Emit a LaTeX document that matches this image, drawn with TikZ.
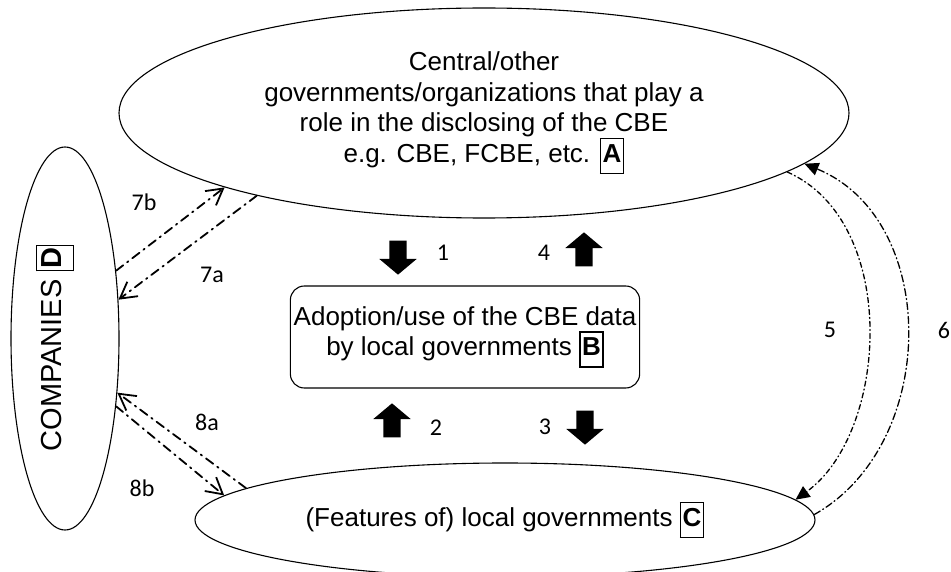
\documentclass[tikz,border=0pt]{standalone}
\usepackage{fontspec}
\setmainfont{Liberation Sans}
\newfontfamily\numfont{Carlito}
\usetikzlibrary{arrows.meta,shapes.geometric,shapes.arrows}

\newcommand{\boxlet}[1]{{\setlength{\fboxsep}{1.5pt}\setlength{\fboxrule}{1.4pt}\fbox{\textbf{#1}\strut}}}

\begin{document}
\begin{tikzpicture}[x=1pt,y=-1pt,line cap=round,
  font=\fontsize{26}{30.5}\selectfont,
  oval/.style={draw,ellipse,inner sep=0pt,line width=1.1pt},
  blockarr/.style={single arrow,fill=black,inner xsep=0pt,inner ysep=8.5pt,
    single arrow head extend=10pt,single arrow tip angle=100,minimum height=34pt},
  num/.style={font=\numfont\fontsize{24}{28}\selectfont},
  flow/.style={line width=1.8pt,dash pattern=on 9pt off 5pt on 1.5pt off 5pt,
    -{Straight Barb[length=16pt,width=18pt,line width=1.8pt]}},
  loop/.style={line width=1.3pt,-{Triangle[length=14pt,width=13pt]}}]
\useasboundingbox (0,0) rectangle (951,572);

% the four blocks
\node[oval,minimum width=730pt,minimum height=210pt,align=center] (A) at (484,113)
  {Central/other\\governments/organizations that play a\\role in the disclosing of the CBE\\e.g. CBE, FCBE, etc. \boxlet{A}};
\node[draw,line width=1.1pt,rounded corners=14pt,minimum width=346pt,minimum height=102pt,align=center] (B) at (465,337)
  {Adoption/use of the CBE data\\by local governments \boxlet{B}};
\node[oval,minimum width=620pt,minimum height=114pt] (C) at (505,520) {(Features of) local governments \boxlet{C}};
\node[oval,minimum width=108pt,minimum height=383pt] (D) at (65,338.5) {};
\node[rotate=90,font=\fontsize{29}{33}\selectfont] (Dtext) at (55,348) {COMPANIES \boxlet{D}};

% links A-B-C
\node[blockarr,rotate=-90] (a1) at (398,254) {};
\node[blockarr,rotate=90] (a4) at (584,253) {};
\node[blockarr,rotate=90] (a2) at (392,424) {};
\node[blockarr,rotate=-90] (a3) at (585,424) {};
\node[num] (n1) at (443,253) {1};
\node[num] (n4) at (544,253) {4};
\node[num] (n2) at (436,428) {2};
\node[num] (n3) at (545,427) {3};

% companies
\draw[flow] (D.53) -- (A.196);
\draw[flow] (A.200) -- (D.36);
\draw[flow] (C.173) -- (D.-46);
\draw[flow] (D.-53) -- (C.175);
\node[num] (n7b) at (144,202) {7b};
\node[num] (n7a) at (212,275) {7a};
\node[num] (n8a) at (207,422) {8a};
\node[num] (n8b) at (142,488) {8b};

% feedback loops
\draw[loop,dash pattern=on 5pt off 3pt on 1pt off 3pt] (A.-11) .. controls +(113,50) and +(93,-67) .. (C.4);
\draw[loop,dash pattern=on 7pt off 3pt on 1pt off 3pt] (C.1) .. controls +(125,-70) and +(136,56) .. (A.-9);
\node[num] (n5) at (830,330) {5};
\node[num] (n6) at (944,330) {6};
\end{tikzpicture}
\end{document}
